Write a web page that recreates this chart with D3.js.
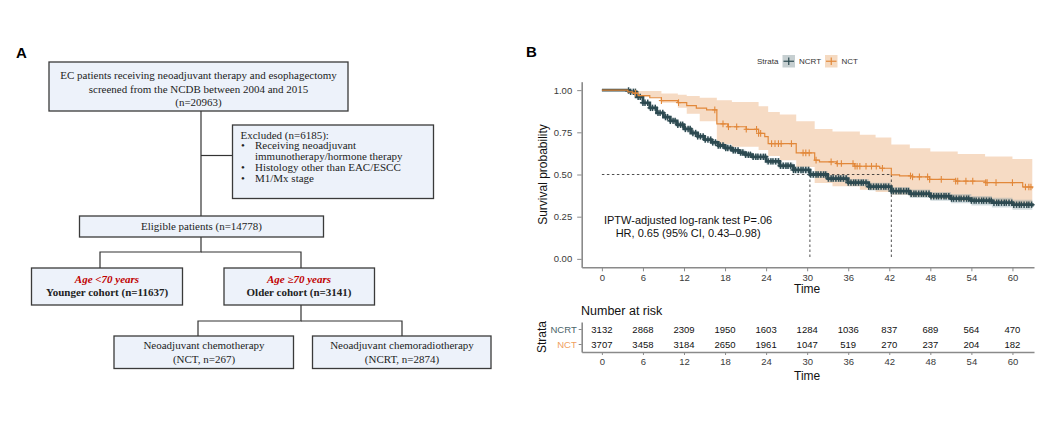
<!DOCTYPE html>
<html><head><meta charset="utf-8">
<script src="https://cdn.jsdelivr.net/npm/d3@7"></script>
<style>
html,body{margin:0;padding:0;background:#fff;}
svg{display:block;}
</style></head>
<body>
<svg id="chart" width="1062" height="423"></svg>
<script>
// ---------------- DATA ----------------
const xTicks = [0, 6, 12, 18, 24, 30, 36, 42, 48, 54, 60];
const yTicks = [0, 0.25, 0.5, 0.75, 1];
const yTickLabels = ["0.00", "0.25", "0.50", "0.75", "1.00"];
const strata = ["NCRT", "NCT"];

// NCT Kaplan-Meier (IPTW) step curve
const nctTime = [0, 3.8, 4.5, 5.3, 7, 8.7, 11.1, 12.4, 13.8, 15.3, 16.8, 18.4, 21.1, 22.9, 23.8, 24.3, 28.4, 31.1, 31.8, 34.3, 36.9, 40.6, 42.3, 43.5, 45.4, 47.9, 51.7, 56.1, 61.5, 62.9];
const nctSurv = [1, 0.99, 0.982, 0.968, 0.955, 0.938, 0.926, 0.908, 0.893, 0.883, 0.80, 0.783, 0.768, 0.744, 0.724, 0.683, 0.628, 0.585, 0.575, 0.565, 0.549, 0.537, 0.498, 0.492, 0.486, 0.471, 0.461, 0.452, 0.426, 0.417];
const nctCensor = [4.9, 8.7, 11.2, 16.5, 17.7, 18.5, 19.7, 21.1, 22.6, 22.9, 23.2, 24.8, 25.3, 25.8, 26.2, 27.7, 29.4, 29.8, 30.3, 31.3, 33.5, 34.4, 35.0, 36.7, 37.0, 37.3, 37.7, 38.6, 39.4, 40.1, 41.0, 45.1, 45.4, 46.4, 47.6, 47.9, 49.6, 51.7, 52.0, 53.2, 54.2, 56.1, 56.3, 57.6, 60.0, 61.9, 62.4, 62.7];
// NCT confidence band
const nctBandTime = [0, 3.8, 5.3, 8.7, 11.1, 12.4, 14.3, 16.8, 19.0, 22.9, 24.3, 26.0, 28.4, 31.1, 33.7, 37.7, 40.0, 42.3, 45.0, 48.0, 52.0, 56.0, 60.0, 62.9];
const nctUpper = [1, 1, 0.995, 0.98, 0.972, 0.965, 0.955, 0.94, 0.93, 0.905, 0.87, 0.855, 0.815, 0.77, 0.755, 0.735, 0.72, 0.678, 0.655, 0.637, 0.622, 0.607, 0.592, 0.585];
const nctLower = [1, 0.985, 0.96, 0.925, 0.895, 0.86, 0.815, 0.68, 0.665, 0.645, 0.61, 0.585, 0.545, 0.45, 0.43, 0.41, 0.397, 0.38, 0.368, 0.356, 0.345, 0.334, 0.322, 0.312];

// NCRT Kaplan-Meier (IPTW) curve
const ncrtTime = [0, 3.6, 4.0, 5, 6, 7, 8, 9, 10, 11, 12, 13, 14, 15, 16, 17, 18, 19, 20, 21, 22, 24, 26, 28, 30.4, 33, 36, 39, 42.3, 45, 48, 51, 54, 57, 60, 62.9];
const ncrtSurv = [1, 0.998, 0.99, 0.96, 0.925, 0.895, 0.865, 0.84, 0.818, 0.795, 0.77, 0.746, 0.726, 0.707, 0.69, 0.672, 0.657, 0.643, 0.63, 0.617, 0.605, 0.578, 0.552, 0.527, 0.50, 0.476, 0.452, 0.428, 0.402, 0.386, 0.371, 0.357, 0.345, 0.333, 0.321, 0.31];
const ncrtUpper = [1, 1, 0.995, 0.968, 0.934, 0.905, 0.876, 0.852, 0.83, 0.808, 0.784, 0.76, 0.74, 0.722, 0.705, 0.688, 0.673, 0.66, 0.647, 0.634, 0.622, 0.596, 0.571, 0.547, 0.52, 0.497, 0.474, 0.451, 0.426, 0.411, 0.397, 0.384, 0.373, 0.362, 0.351, 0.341];
const ncrtLower = [1, 0.996, 0.985, 0.952, 0.916, 0.885, 0.854, 0.828, 0.806, 0.782, 0.756, 0.732, 0.712, 0.692, 0.675, 0.656, 0.641, 0.626, 0.613, 0.6, 0.588, 0.56, 0.533, 0.507, 0.48, 0.455, 0.43, 0.405, 0.378, 0.361, 0.345, 0.33, 0.317, 0.304, 0.291, 0.28];
const ncrtCensor = [3.9, 4.2, 4.6, 4.9, 5.3, 5.6, 6.0, 6.3, 6.7, 7.1, 7.4, 7.8, 8.2, 8.5, 8.9, 9.3, 9.6, 10.0, 10.4, 10.7, 11.1, 11.5, 11.8, 12.2, 12.6, 12.9, 13.3, 13.7, 14.0, 14.4, 14.8, 15.1, 15.5, 15.9, 16.2, 16.6, 17.0, 17.3, 17.7, 18.1, 18.4, 18.8, 19.2, 19.5, 19.9, 20.3, 20.6, 21.0, 21.4, 21.7, 22.1, 22.5, 22.8, 23.2, 23.6, 23.9, 24.3, 24.7, 25.0, 25.4, 25.8, 26.1, 26.5, 26.9, 27.2, 27.6, 28.0, 28.3, 28.7, 29.1, 29.4, 29.8, 30.2, 30.5, 30.9, 31.3, 31.6, 32.0, 32.4, 32.7, 33.1, 33.5, 33.8, 34.2, 34.6, 34.9, 35.3, 35.7, 36.0, 36.4, 36.8, 37.1, 37.5, 37.9, 38.2, 38.6, 39.0, 39.3, 39.7, 40.1, 40.4, 40.8, 41.2, 41.5, 41.9, 42.3, 42.6, 43.0, 43.4, 43.7, 44.1, 44.5, 44.8, 45.2, 45.6, 45.9, 46.3, 46.7, 47.0, 47.4, 47.8, 48.1, 48.5, 48.9, 49.2, 49.6, 50.0, 50.3, 50.7, 51.1, 51.4, 51.8, 52.2, 52.5, 52.9, 53.3, 53.6, 54.0, 54.4, 54.7, 55.1, 55.5, 55.8, 56.2, 56.6, 56.9, 57.3, 57.7, 58.0, 58.4, 58.8, 59.1, 59.5, 59.9, 60.2, 60.6, 61.0, 61.3, 61.7, 62.1, 62.4, 62.8];

const medianNCRT = 30.4;
const medianNCT = 42.3;

const riskNCRT = [3132, 2868, 2309, 1950, 1603, 1284, 1036, 837, 689, 564, 470];
const riskNCT = [3707, 3458, 3184, 2650, 1961, 1047, 519, 270, 237, 204, 182];

// ---------------- STYLE ----------------
const colNCRT = "#2d4a51";
const colNCT = "#e2883a";
const serif = "'Liberation Serif','Times New Roman',serif";
const sans = "'Liberation Sans',Arial,sans-serif";

const svg = d3.select("#chart");

// ================= PANEL A : flowchart =================
const A = svg.append("g");
A.append("text").attr("x", 16).attr("y", 58).attr("font-family", sans)
  .attr("font-weight", "bold").attr("font-size", 15).text("A");

const boxFill = "#edf2fa", boxStroke = "#3a3a3a";
function box(x0, y0, x1, y1) {
  A.append("rect").attr("x", x0).attr("y", y0).attr("width", x1 - x0).attr("height", y1 - y0)
    .attr("fill", boxFill).attr("stroke", boxStroke).attr("stroke-width", 1.3);
}
function ln(pts) {
  A.append("path").attr("d", d3.line()(pts)).attr("fill", "none")
    .attr("stroke", "#333").attr("stroke-width", 1.2);
}
function txt(x, y, s, opt = {}) {
  const sy = opt.sy || 0.86;
  const t = A.append("text").attr("transform", `translate(${x},${y}) scale(1,${sy})`)
    .attr("dy", "0.35em")
    .attr("font-family", serif).attr("font-size", opt.size || 11)
    .attr("text-anchor", opt.anchor || "middle").attr("fill", opt.fill || "#222")
    .text(s);
  if (opt.bold) t.attr("font-weight", "bold");
  if (opt.italic) t.attr("font-style", "italic");
  return t;
}

// connectors
ln([[201, 111], [201, 216]]);
ln([[201, 155.5], [232, 155.5]]);
ln([[201, 237], [201, 252], [100, 252], [100, 268]]);
ln([[201, 252], [301, 252], [301, 268]]);
ln([[301, 305], [301, 321], [198, 321], [198, 336]]);
ln([[301, 321], [402, 321], [402, 336]]);

box(49, 62, 348, 111);
txt(198.5, 76, "EC patients receiving neoadjuvant therapy and esophagectomy");
txt(198.5, 89.5, "screened from the NCDB between 2004 and 2015");
txt(198.5, 102.5, "(n=20963)");

box(232.5, 125, 433.5, 198.5);
const exSy = 0.88;
txt(240.5, 135.5, "Excluded (n=6185):", {anchor: "start", sy: exSy});
const bullets = [["•", "Receiving neoadjuvant", 146], [null, "immunotherapy/hormone therapy", 156.5], ["•", "Histology other than EAC/ESCC", 167.5], ["•", "M1/Mx stage", 178.5]];
bullets.forEach(b => {
  if (b[0]) txt(243, b[2], b[0], {sy: exSy});
  txt(255, b[2], b[1], {anchor: "start", sy: exSy});
});

box(79.5, 216, 323.5, 237);
txt(201.5, 226.5, "Eligible patients (n=14778)");

box(31.5, 268, 182.5, 305);
txt(107, 280, "Age <70 years", {bold: true, italic: true, fill: "#c00000"});
txt(107, 292.5, "Younger cohort (n=11637)", {bold: true});

box(224, 268, 374.5, 305);
txt(299, 280, "Age \u226570 years", {bold: true, italic: true, fill: "#c00000"});
txt(299, 292.5, "Older cohort (n=3141)", {bold: true});

box(114, 336, 293.5, 368.5);
txt(204, 346, "Neoadjuvant chemotherapy");
txt(204, 359.5, "(NCT, n=267)");

box(312.5, 336, 491, 368.5);
txt(402, 346, "Neoadjuvant chemoradiotherapy");
txt(402, 359.5, "(NCRT, n=2874)");

// ================= PANEL B : KM plot =================
const B = svg.append("g");
B.append("text").attr("x", 526).attr("y", 57).attr("font-family", sans)
  .attr("font-weight", "bold").attr("font-size", 15).text("B");

const x = d3.scaleLinear().domain([-2.95, 63.15]).range([581.7, 1034]);
const y = d3.scaleLinear().domain([-0.05, 1.05]).range([267.3, 81.7]);

// legend
const leg = B.append("g").attr("font-family", sans).attr("font-size", 8).attr("fill", "#333");
leg.append("text").attr("x", 757).attr("y", 61).attr("dy", "0.35em").text("Strata");
const legItems = [
  {name: strata[0], col: colNCRT, fill: "#c6cfd1", x0: 782.5, tx: 799},
  {name: strata[1], col: colNCT, fill: "#f5dac1", x0: 825, tx: 841.5}
];
legItems.forEach(d => {
  leg.append("rect").attr("x", d.x0).attr("y", 55).attr("width", 12.5).attr("height", 12.5).attr("fill", d.fill);
  leg.append("line").attr("x1", d.x0 + 1).attr("x2", d.x0 + 11.5).attr("y1", 61.25).attr("y2", 61.25).attr("stroke", d.col).attr("stroke-width", 1.2);
  leg.append("line").attr("x1", d.x0 + 6.25).attr("x2", d.x0 + 6.25).attr("y1", 57.5).attr("y2", 65).attr("stroke", d.col).attr("stroke-width", 1.2);
  leg.append("text").attr("x", d.tx).attr("y", 61).attr("dy", "0.35em").text(d.name);
});

// bands
const bandArea = (times, lo, hi) => d3.area().curve(d3.curveStepAfter)
  .x((d, i) => x(times[i])).y0((d, i) => y(lo[i])).y1((d, i) => y(hi[i]))(times);
B.append("path").attr("d", bandArea(nctBandTime, nctLower, nctUpper))
  .attr("fill", colNCT).attr("fill-opacity", 0.3);
B.append("path").attr("d", bandArea(ncrtTime, ncrtLower, ncrtUpper))
  .attr("fill", "#7f9aa2").attr("fill-opacity", 0.35);

// median dashed lines
const dash = B.append("g").attr("stroke", "#222").attr("stroke-width", 0.8).attr("stroke-dasharray", "2.5,2.5").attr("fill", "none");
dash.append("line").attr("x1", x(0)).attr("x2", x(medianNCT)).attr("y1", y(0.5)).attr("y2", y(0.5));
[medianNCRT, medianNCT].forEach(m => dash.append("line").attr("x1", x(m)).attr("x2", x(m)).attr("y1", y(0.5)).attr("y2", y(0)));

// curves
const stepLine = (times, surv) => d3.line().curve(d3.curveStepAfter)
  .x((d, i) => x(times[i])).y((d, i) => y(surv[i]))(times);
function stepAt(times, surv, t) { return surv[Math.max(0, d3.bisectRight(times, t) - 1)]; }
function censor(times, surv, marks, col, hw, hh, sw) {
  const g = B.append("g").attr("stroke", col).attr("stroke-width", sw);
  marks.forEach(t => {
    const cx = x(t), cy = y(stepAt(times, surv, t));
    g.append("line").attr("x1", cx - hw).attr("x2", cx + hw).attr("y1", cy).attr("y2", cy);
    g.append("line").attr("x1", cx).attr("x2", cx).attr("y1", cy - hh).attr("y2", cy + hh);
  });
}
B.append("path").attr("d", stepLine(ncrtTime, ncrtSurv)).attr("fill", "none").attr("stroke", colNCRT).attr("stroke-width", 2.8);
censor(ncrtTime, ncrtSurv, ncrtCensor, colNCRT, 3, 3.2, 1.5);
B.append("path").attr("d", stepLine(nctTime, nctSurv)).attr("fill", "none").attr("stroke", colNCT).attr("stroke-width", 1.2);
censor(nctTime, nctSurv, nctCensor, colNCT, 2.6, 3.3, 1.1);

// axes
const axisCol = "#8a8a8a";
const gx = B.append("g").attr("transform", `translate(0,${y(-0.05)})`)
  .call(d3.axisBottom(x).tickValues(xTicks).tickSize(4).tickSizeOuter(0).tickPadding(3));
const gy = B.append("g").attr("transform", `translate(${x(-2.95)},0)`)
  .call(d3.axisLeft(y).tickValues(yTicks).tickFormat((d, i) => yTickLabels[i]).tickSize(4.5).tickSizeOuter(0).tickPadding(5));
[gx, gy].forEach(g => {
  g.select(".domain").attr("stroke", axisCol).attr("stroke-width", 1.6);
  g.selectAll(".tick line").attr("stroke", axisCol).attr("stroke-width", 1);
  g.selectAll(".tick text").attr("font-family", sans).attr("font-size", 9.5).attr("fill", "#3a3a3a");
});
B.append("text").attr("x", x(30)).attr("y", 289).attr("dy", "0.35em").attr("text-anchor", "middle")
  .attr("font-family", sans).attr("font-size", 12).attr("fill", "#111").text("Time");
B.append("text").attr("transform", `translate(543,${y(0.5)}) rotate(-90)`).attr("text-anchor", "middle")
  .attr("dy", "0.35em").attr("font-family", sans).attr("font-size", 12).attr("fill", "#111").text("Survival probability");

// annotation
B.append("text").attr("x", x(12.6)).attr("y", 220.5).attr("dy", "0.35em").attr("text-anchor", "middle")
  .attr("font-family", sans).attr("font-size", 11).attr("fill", "#111").text("IPTW-adjusted log-rank test P=.06");
B.append("text").attr("x", x(12.6)).attr("y", 233.5).attr("dy", "0.35em").attr("text-anchor", "middle")
  .attr("font-family", sans).attr("font-size", 11).attr("fill", "#111").text("HR, 0.65 (95% CI, 0.43\u20130.98)");

// ================= risk table =================
const R = svg.append("g");
R.append("text").attr("x", 581).attr("y", 311).attr("dy", "0.35em").attr("font-family", sans)
  .attr("font-size", 12.5).attr("fill", "#111").text("Number at risk");
const ry = d3.scaleBand().domain(strata).range([322, 352]);
const rx = R.append("g").attr("transform", "translate(0,352)")
  .call(d3.axisBottom(x).tickValues(xTicks).tickSize(3).tickSizeOuter(0).tickPadding(3));
const ryA = R.append("g").attr("transform", `translate(${x(-2.95)},0)`)
  .call(d3.axisLeft(ry).tickSize(3).tickSizeOuter(0).tickPadding(2));
[rx, ryA].forEach(g => {
  g.select(".domain").attr("stroke", axisCol).attr("stroke-width", 1.6);
  g.selectAll(".tick line").attr("stroke", axisCol).attr("stroke-width", 1);
  g.selectAll(".tick text").attr("font-family", sans).attr("font-size", 9.5).attr("fill", "#3a3a3a");
});
ryA.selectAll(".tick text").attr("fill", d => d === "NCRT" ? "#4a6469" : "#f0a060");
const rowsData = [riskNCRT, riskNCT];
rowsData.forEach((row, r) => {
  R.append("g").selectAll("text").data(row).join("text")
    .attr("x", (d, i) => x(xTicks[i])).attr("y", ry(strata[r]) + ry.bandwidth() / 2)
    .attr("dy", "0.35em").attr("text-anchor", "middle")
    .attr("font-family", sans).attr("font-size", 9.5).attr("fill", "#111").text(d => d);
});
R.append("text").attr("x", x(30)).attr("y", 376).attr("dy", "0.35em").attr("text-anchor", "middle")
  .attr("font-family", sans).attr("font-size", 12).attr("fill", "#111").text("Time");
R.append("text").attr("transform", `translate(541.5,337) rotate(-90)`).attr("text-anchor", "middle")
  .attr("dy", "0.35em").attr("font-family", sans).attr("font-size", 12).attr("fill", "#111").text("Strata");
</script>
</body></html>
